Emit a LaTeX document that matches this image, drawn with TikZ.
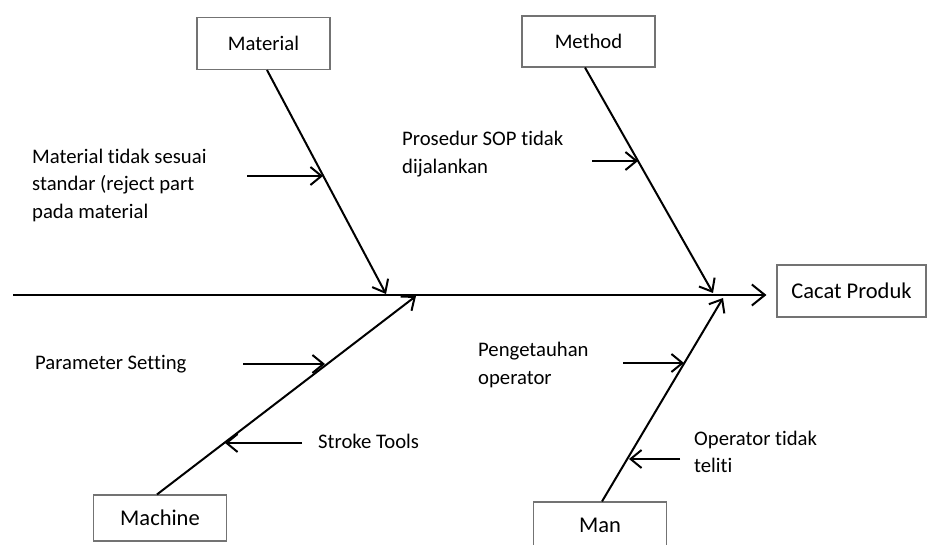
\documentclass[tikz,border=0pt]{standalone}
\usepackage{fontspec}
\setmainfont{Carlito}[Ligatures=NoCommon]
\usetikzlibrary{arrows.meta}
\begin{document}
\begin{tikzpicture}[x=1pt,y=-1pt,
	every node/.style={font=\fontsize{20.7}{27.5}\selectfont,text=black},
	large/.style={font=\fontsize{22.5}{27.5}\selectfont},
	catbox/.style={draw=black!55,line width=1.1pt,minimum width=133pt,minimum height=52pt,inner sep=0pt},
	lowbox/.style={catbox,large,minimum height=46pt},
	cause/.style={anchor=west,align=left,inner sep=0pt},
	bone/.style={line width=2pt,-{Straight Barb[length=11pt,width=18pt]}}]
	\clip (0,0) rectangle (927,545);
	\fill[white] (0,0) rectangle (927,545);
	% head and spine
	\node[catbox,large,minimum width=149pt] (effect) at (851.5,291) {Cacat Produk};
	\coordinate (tail) at (13,295);
	\draw[bone,-{Straight Barb[length=13pt,width=21pt]}] (tail) -- ([xshift=-10pt]tail -| effect.west);
	% categories
	\node[catbox] (material) at (263.5,43.5) {Material};
	\node[catbox,minimum height=51pt] (method) at (588.5,41.5) {Method};
	\node[lowbox] (machine) at (160,518) {Machine};
	\node[lowbox] (man) at (600,525) {Man};
	\coordinate (hmat) at (386,294);
	\coordinate (hmet) at (713,293);
	\coordinate (hmac) at (416,296);
	\coordinate (hman) at (723,298);
	\draw[bone] ([xshift=3.5pt]material.south) -- (hmat);
	\draw[bone] ([xshift=-3.5pt]method.south) -- (hmet);
	\draw[bone] ([xshift=-3pt]machine.north) -- (hmac);
	\draw[bone] ([xshift=2pt]man.north) -- (hman);
	% causes
	\node[cause] (reject) at (32,185) {Material tidak sesuai\\standar (reject part\\pada material};
	\node[cause] (sop) at (402,154) {Prosedur SOP tidak\\dijalankan};
	\node[cause] (param) at (35,364) {Parameter Setting};
	\node[cause] (stroke) at (318,441) {Stroke Tools};
	\node[cause] (skill) at (478,365) {Pengetauhan\\operator};
	\node[cause] (teliti) at (694,452) {Operator tidak\\teliti};
	\coordinate (r1) at (247,176); \coordinate (q1) at (323,176);
	\coordinate (r2) at (592,161); \coordinate (q2) at (638,161);
	\coordinate (r3) at (243,364); \coordinate (q3) at (325,364);
	\coordinate (r4) at (302,443); \coordinate (q4) at (225,443);
	\coordinate (r5) at (623,363); \coordinate (q5) at (684,363);
	\coordinate (r6) at (680,459); \coordinate (q6) at (629,459);
	\foreach \i in {1,...,6}
		\draw[bone] (r\i) -- (q\i);
\end{tikzpicture}
\end{document}
